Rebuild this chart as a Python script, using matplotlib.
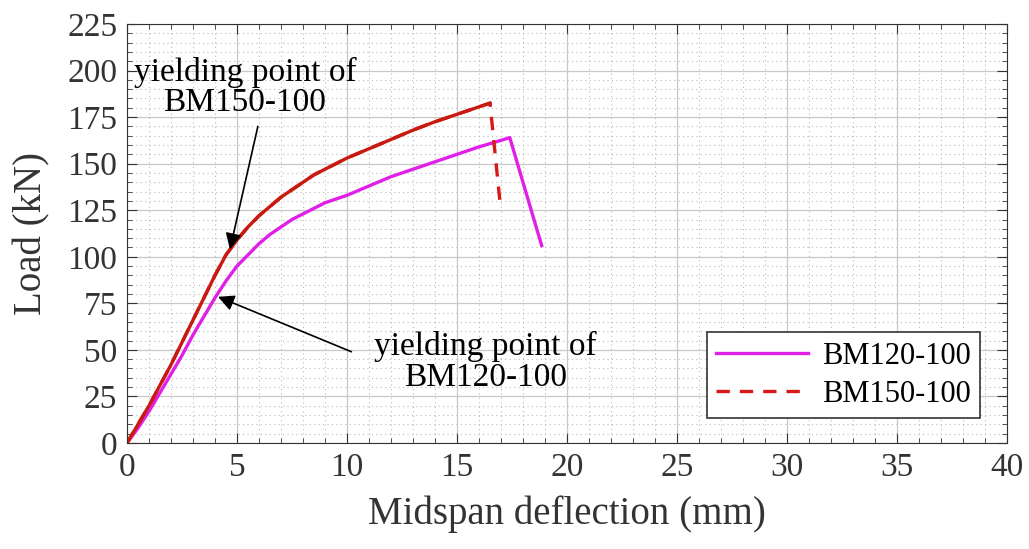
import matplotlib
matplotlib.use("Agg")
import matplotlib.pyplot as plt
from matplotlib.ticker import MultipleLocator

# load-deflection curves
bm120_x = [0, 0.5, 1, 1.5, 2, 2.5, 3, 3.5, 4, 4.5, 5, 5.5, 6, 6.5, 7, 7.5, 8, 8.5, 9, 9.5,
           10, 11, 12, 13, 14, 15, 16, 17, 17.4, 18.85]
bm120_y = [0, 8, 17, 27, 37, 47, 58, 68, 78, 87, 95, 101, 107, 112, 116, 120, 123, 126, 129, 131,
           133, 138, 143, 147, 151, 155, 159, 162.5, 164, 106]
bm150_x = [0, 0.5, 1, 1.5, 2, 2.5, 3, 3.5, 4, 4.5, 5, 5.5, 6, 6.5, 7, 7.5, 8, 8.5, 9, 9.5,
           10, 11, 12, 13, 14, 15, 16, 16.5, 16.95]
bm150_y = [0, 10, 20, 31, 42, 54, 66, 78, 90, 101, 109, 116, 122, 127, 132, 136, 140, 144, 147, 150,
           153, 158, 163, 168, 172.5, 176.5, 180.5, 182.5, 130]

plt.rcParams['font.family'] = ['Liberation Serif', 'DejaVu Serif']

fig = plt.figure(figsize=(10.29, 5.49), dpi=100)
ax = fig.add_axes([0.1234, 0.1931, 0.8552, 0.7632])

ax.plot(bm120_x, bm120_y, color='#e020e8', lw=2.4, label='BM120-100')
ax.plot(bm150_x, bm150_y, color='#d81818', lw=2.4, ls=(0, (4, 3)), label='BM150-100')
ax.plot(bm150_x[:-1], bm150_y[:-1], color='#c81a10', lw=2.4)

ax.set_xlim(0, 40)
ax.set_ylim(0, 225)
ax.xaxis.set_major_locator(MultipleLocator(5))
ax.xaxis.set_minor_locator(MultipleLocator(1))
ax.yaxis.set_major_locator(MultipleLocator(25))
ax.yaxis.set_minor_locator(MultipleLocator(5))
ax.grid(True, which='major', color='#c8c8c8', lw=0.9)
ax.grid(True, which='minor', color='#bbbbbb', lw=0.8, ls=(0, (1, 3)))
ax.set_axisbelow(True)
ax.tick_params(which='both', direction='in', top=True, right=True, labelsize=24, colors='#333333')
ax.tick_params(which='major', length=7, pad=7)
ax.tick_params(which='minor', length=3.5)
for s in ax.spines.values():
    s.set_color('#333333')

ax.set_xlabel('Midspan deflection (mm)', fontsize=28, color='#333333', labelpad=9)
ax.set_ylabel('Load (kN)', fontsize=28, color='#333333', labelpad=12)

arrow = dict(arrowstyle='-|>', color='black', lw=1.2, mutation_scale=24, shrinkA=0, shrinkB=0)
ax.text(5.36, 191, 'yielding point of\nBM150-100', ha='center', va='center', fontsize=24, linespacing=1.0)
ax.annotate('', xy=(4.68, 104), xytext=(5.95, 170), arrowprops=arrow)
ax.text(16.3, 43.5, 'yielding point of\nBM120-100', ha='center', va='center', fontsize=24, linespacing=1.0)
ax.annotate('', xy=(4.14, 78.5), xytext=(10.2, 49), arrowprops=arrow)

leg = ax.legend(loc='lower right', bbox_to_anchor=(0.969, 0.06), borderaxespad=0, fontsize=22,
                frameon=True, fancybox=False, edgecolor='#333333', framealpha=1, handlelength=3.0,
                borderpad=0.3, labelspacing=0.3, handletextpad=0.45)
leg.get_frame().set_linewidth(1.2)

fig.savefig('out.png', dpi=100)
